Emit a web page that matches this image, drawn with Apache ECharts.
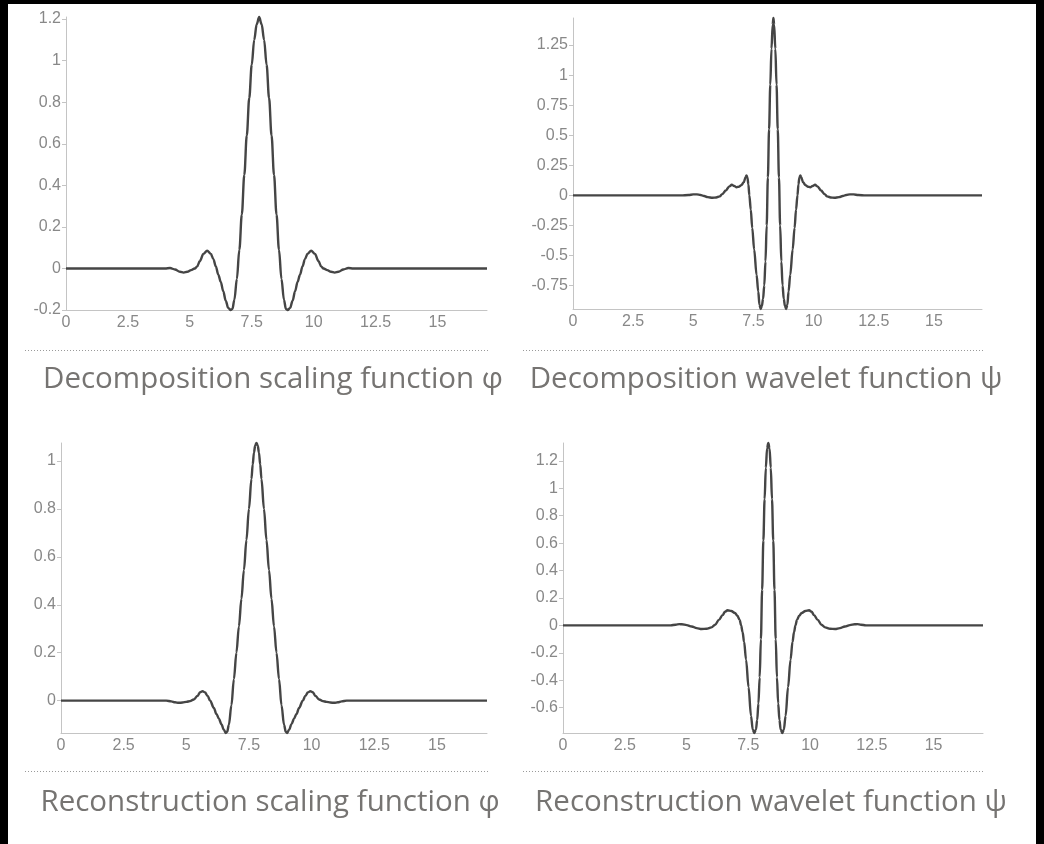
<!DOCTYPE html>
<html>
<head>
<meta charset="utf-8">
<script src="https://cdn.jsdelivr.net/npm/echarts@6/dist/echarts.min.js"></script>
<style>
  html, body { margin: 0; padding: 0; background: #000; }
  #chart { width: 1044px; height: 844px; }
</style>
</head>
<body>
<div id="chart"></div>
<script>
// Decomposition scaling function phi
const decPhiX = [0, 4.0, 4.2, 4.4, 4.6, 4.75, 4.9, 5.05, 5.2, 5.3, 5.4, 5.55, 5.7, 5.85, 5.95, 6.05, 6.15, 6.25, 6.35, 6.45, 6.55, 6.65, 6.72, 6.8, 6.9, 7.0, 7.1, 7.2, 7.3, 7.4, 7.5, 7.6, 7.7, 7.8, 7.9, 8.0, 8.1, 8.2, 8.3, 8.4, 8.5, 8.6, 8.7, 8.8, 8.88, 8.95, 9.05, 9.15, 9.25, 9.35, 9.45, 9.55, 9.65, 9.75, 9.9, 10.05, 10.2, 10.3, 10.4, 10.55, 10.7, 10.85, 11.0, 11.2, 11.4, 11.6, 17];
const decPhiY = [0, 0, 0.002, -0.005, -0.016, -0.02, -0.016, -0.008, 0.0, 0.01, 0.035, 0.07, 0.085, 0.07, 0.045, 0.01, -0.03, -0.065, -0.11, -0.155, -0.19, -0.2, -0.195, -0.15, -0.05, 0.09, 0.26, 0.45, 0.64, 0.82, 0.98, 1.10, 1.175, 1.21, 1.175, 1.10, 0.98, 0.82, 0.64, 0.45, 0.26, 0.09, -0.05, -0.15, -0.195, -0.2, -0.19, -0.155, -0.11, -0.065, -0.03, 0.01, 0.045, 0.07, 0.085, 0.07, 0.035, 0.01, 0.0, -0.008, -0.016, -0.02, -0.016, -0.005, 0.002, 0, 0];

// Decomposition wavelet function psi
const decPsiX = [0, 4.5, 4.8, 5.0, 5.15, 5.3, 5.45, 5.6, 5.8, 5.95, 6.1, 6.2, 6.35, 6.5, 6.6, 6.7, 6.8, 6.9, 7.0, 7.1, 7.17, 7.21, 7.25, 7.29, 7.33, 7.39, 7.45, 7.53, 7.63, 7.7, 7.75, 7.8, 7.85, 7.9, 7.95, 8.0, 8.05, 8.1, 8.15, 8.2, 8.25, 8.3, 8.33, 8.36, 8.41, 8.46, 8.51, 8.56, 8.61, 8.66, 8.71, 8.76, 8.81, 8.86, 8.91, 8.96, 9.03, 9.13, 9.21, 9.27, 9.33, 9.37, 9.41, 9.45, 9.49, 9.56, 9.66, 9.76, 9.86, 9.96, 10.06, 10.16, 10.31, 10.46, 10.56, 10.71, 10.86, 11.06, 11.21, 11.36, 11.51, 11.66, 11.86, 12.16, 17];
const decPsiY = [0, 0, 0.003, 0.008, 0.008, 0.003, -0.005, -0.015, -0.02, -0.018, -0.008, 0.01, 0.04, 0.075, 0.088, 0.078, 0.068, 0.072, 0.085, 0.11, 0.15, 0.166, 0.15, 0.09, 0.0, -0.12, -0.27, -0.45, -0.66, -0.80, -0.91, -0.945, -0.92, -0.86, -0.75, -0.55, -0.25, 0.15, 0.55, 0.92, 1.22, 1.42, 1.475, 1.42, 1.22, 0.92, 0.55, 0.15, -0.25, -0.55, -0.75, -0.86, -0.92, -0.945, -0.91, -0.80, -0.66, -0.45, -0.27, -0.12, 0.0, 0.09, 0.15, 0.166, 0.15, 0.11, 0.085, 0.072, 0.068, 0.078, 0.088, 0.075, 0.04, 0.01, -0.008, -0.018, -0.02, -0.015, -0.005, 0.003, 0.008, 0.008, 0.003, 0, 0];

// Reconstruction scaling function phi
const recPhiX = [0, 4.2, 4.4, 4.55, 4.7, 4.85, 5.0, 5.15, 5.3, 5.45, 5.55, 5.65, 5.75, 5.85, 5.95, 6.1, 6.2, 6.3, 6.4, 6.5, 6.58, 6.63, 6.7, 6.8, 6.9, 7.0, 7.1, 7.2, 7.3, 7.4, 7.5, 7.6, 7.65, 7.7, 7.75, 7.8, 7.85, 7.9, 7.95, 8.0, 8.1, 8.2, 8.3, 8.4, 8.5, 8.6, 8.7, 8.8, 8.9, 8.97, 9.02, 9.1, 9.2, 9.3, 9.4, 9.5, 9.65, 9.75, 9.85, 9.95, 10.05, 10.15, 10.3, 10.45, 10.6, 10.75, 10.9, 11.05, 11.2, 11.4, 17];
const recPhiY = [0, 0, -0.003, -0.007, -0.009, -0.008, -0.005, -0.002, 0.005, 0.02, 0.035, 0.039, 0.034, 0.02, 0.0, -0.03, -0.055, -0.075, -0.098, -0.122, -0.135, -0.13, -0.10, -0.02, 0.09, 0.20, 0.31, 0.425, 0.545, 0.67, 0.80, 0.925, 0.985, 1.035, 1.065, 1.075, 1.065, 1.035, 0.985, 0.925, 0.80, 0.67, 0.545, 0.425, 0.31, 0.20, 0.09, -0.02, -0.10, -0.13, -0.135, -0.122, -0.098, -0.075, -0.055, -0.03, 0.0, 0.02, 0.034, 0.039, 0.035, 0.02, 0.005, -0.002, -0.005, -0.008, -0.009, -0.007, -0.003, 0, 0];

// Reconstruction wavelet function psi
const recPsiX = [0, 4.36, 4.56, 4.71, 4.81, 5.01, 5.21, 5.41, 5.61, 5.81, 6.01, 6.16, 6.31, 6.46, 6.56, 6.66, 6.81, 6.96, 7.06, 7.15, 7.21, 7.27, 7.33, 7.41, 7.51, 7.61, 7.68, 7.74, 7.81, 7.86, 7.91, 7.96, 8.01, 8.06, 8.11, 8.16, 8.21, 8.26, 8.31, 8.36, 8.41, 8.46, 8.51, 8.56, 8.61, 8.66, 8.71, 8.76, 8.81, 8.88, 8.94, 9.01, 9.11, 9.21, 9.29, 9.35, 9.41, 9.47, 9.56, 9.66, 9.81, 9.96, 10.06, 10.16, 10.31, 10.46, 10.61, 10.81, 11.01, 11.21, 11.41, 11.61, 11.81, 11.91, 12.06, 12.26, 17];
const recPsiY = [0, 0, 0.005, 0.009, 0.008, 0.002, -0.008, -0.02, -0.027, -0.025, -0.015, 0.005, 0.04, 0.075, 0.1, 0.11, 0.105, 0.09, 0.07, 0.04, 0.0, -0.05, -0.12, -0.25, -0.45, -0.66, -0.76, -0.785, -0.76, -0.69, -0.57, -0.38, -0.10, 0.26, 0.62, 0.92, 1.15, 1.29, 1.33, 1.29, 1.15, 0.92, 0.62, 0.26, -0.10, -0.38, -0.57, -0.69, -0.76, -0.785, -0.76, -0.66, -0.45, -0.25, -0.12, -0.05, 0.0, 0.04, 0.07, 0.09, 0.105, 0.11, 0.1, 0.075, 0.04, 0.005, -0.015, -0.025, -0.027, -0.02, -0.008, 0.002, 0.008, 0.009, 0.005, 0, 0];

// Axis tick values
const xTicks = [0, 2.5, 5, 7.5, 10, 12.5, 15];
const decPhiTicks = [-0.2, 0, 0.2, 0.4, 0.6, 0.8, 1, 1.2];
const decPsiTicks = [-0.75, -0.5, -0.25, 0, 0.25, 0.5, 0.75, 1, 1.25];
const recPhiTicks = [0, 0.2, 0.4, 0.6, 0.8, 1];
const recPsiTicks = [-0.6, -0.4, -0.2, 0, 0.2, 0.4, 0.6, 0.8, 1, 1.2];

const titles = [
  'Decomposition scaling function φ',
  'Decomposition wavelet function ψ',
  'Reconstruction scaling function φ',
  'Reconstruction wavelet function ψ'
];

const pairs = (xs, ys) => xs.map((x, i) => [x, ys[i]]);

const panels = [
  { data: pairs(decPhiX, decPhiY), ticks: decPhiTicks, grid: { left: 66, top: 17, width: 421, height: 293 }, titleX: 273, titleY: 380 },
  { data: pairs(decPsiX, decPsiY), ticks: decPsiTicks, grid: { left: 573, top: 18, width: 409, height: 291 }, titleX: 766, titleY: 380 },
  { data: pairs(recPhiX, recPhiY), ticks: recPhiTicks, grid: { left: 61, top: 443, width: 426, height: 290 }, titleX: 270, titleY: 803 },
  { data: pairs(recPsiX, recPsiY), ticks: recPsiTicks, grid: { left: 563, top: 443, width: 420, height: 290 }, titleX: 771, titleY: 803 }
];

const axisGray = '#c4c4c4';
const labelGray = '#888888';
const labelFont = { color: labelGray, fontSize: 16, fontFamily: 'Liberation Sans, Arial, sans-serif' };

const option = {
  backgroundColor: '#000',
  animation: false,
  graphic: [
    { type: 'rect', z: -10, shape: { x: 8, y: 4, width: 1028, height: 840 }, style: { fill: '#fff' } },
    { type: 'line', shape: { x1: 25, y1: 350.5, x2: 490, y2: 350.5 }, style: { stroke: '#9a9a9a', lineWidth: 1, lineDash: [1, 2] } },
    { type: 'line', shape: { x1: 523, y1: 350.5, x2: 985, y2: 350.5 }, style: { stroke: '#9a9a9a', lineWidth: 1, lineDash: [1, 2] } },
    { type: 'line', shape: { x1: 25, y1: 771.5, x2: 490, y2: 771.5 }, style: { stroke: '#9a9a9a', lineWidth: 1, lineDash: [1, 2] } },
    { type: 'line', shape: { x1: 523, y1: 771.5, x2: 985, y2: 771.5 }, style: { stroke: '#9a9a9a', lineWidth: 1, lineDash: [1, 2] } }
  ].concat(panels.map((p, i) => ({
    type: 'text',
    x: p.titleX,
    y: p.titleY,
    style: {
      text: titles[i],
      fill: '#767472',
      font: '29.5px "Open Sans", sans-serif',
      align: 'center',
      verticalAlign: 'middle'
    }
  }))),
  grid: panels.map(p => p.grid),
  xAxis: panels.map((p, i) => ({
    type: 'value',
    gridIndex: i,
    min: 0,
    max: 17,
    axisLine: { show: true, onZero: false, lineStyle: { color: axisGray, width: 1 } },
    axisTick: { show: false },
    splitLine: { show: false },
    axisLabel: Object.assign({ margin: 5, customValues: xTicks }, labelFont)
  })),
  yAxis: panels.map((p, i) => ({
    type: 'value',
    gridIndex: i,
    min: 'dataMin',
    max: 'dataMax',
    axisLine: { show: true, onZero: false, lineStyle: { color: axisGray, width: 1 } },
    axisTick: { show: true, length: 4, customValues: p.ticks, lineStyle: { color: axisGray } },
    splitLine: { show: false },
    axisLabel: Object.assign({ margin: 5, customValues: p.ticks }, labelFont)
  })),
  series: panels.map((p, i) => ({
    type: 'line',
    xAxisIndex: i,
    yAxisIndex: i,
    data: p.data,
    showSymbol: false,
    smooth: 0.35,
    smoothMonotone: 'x',
    clip: false,
    lineStyle: { color: '#454545', width: 2.4 }
  }))
};

const chart = echarts.init(document.getElementById('chart'), null, { renderer: 'canvas' });
chart.setOption(option);
</script>
</body>
</html>
